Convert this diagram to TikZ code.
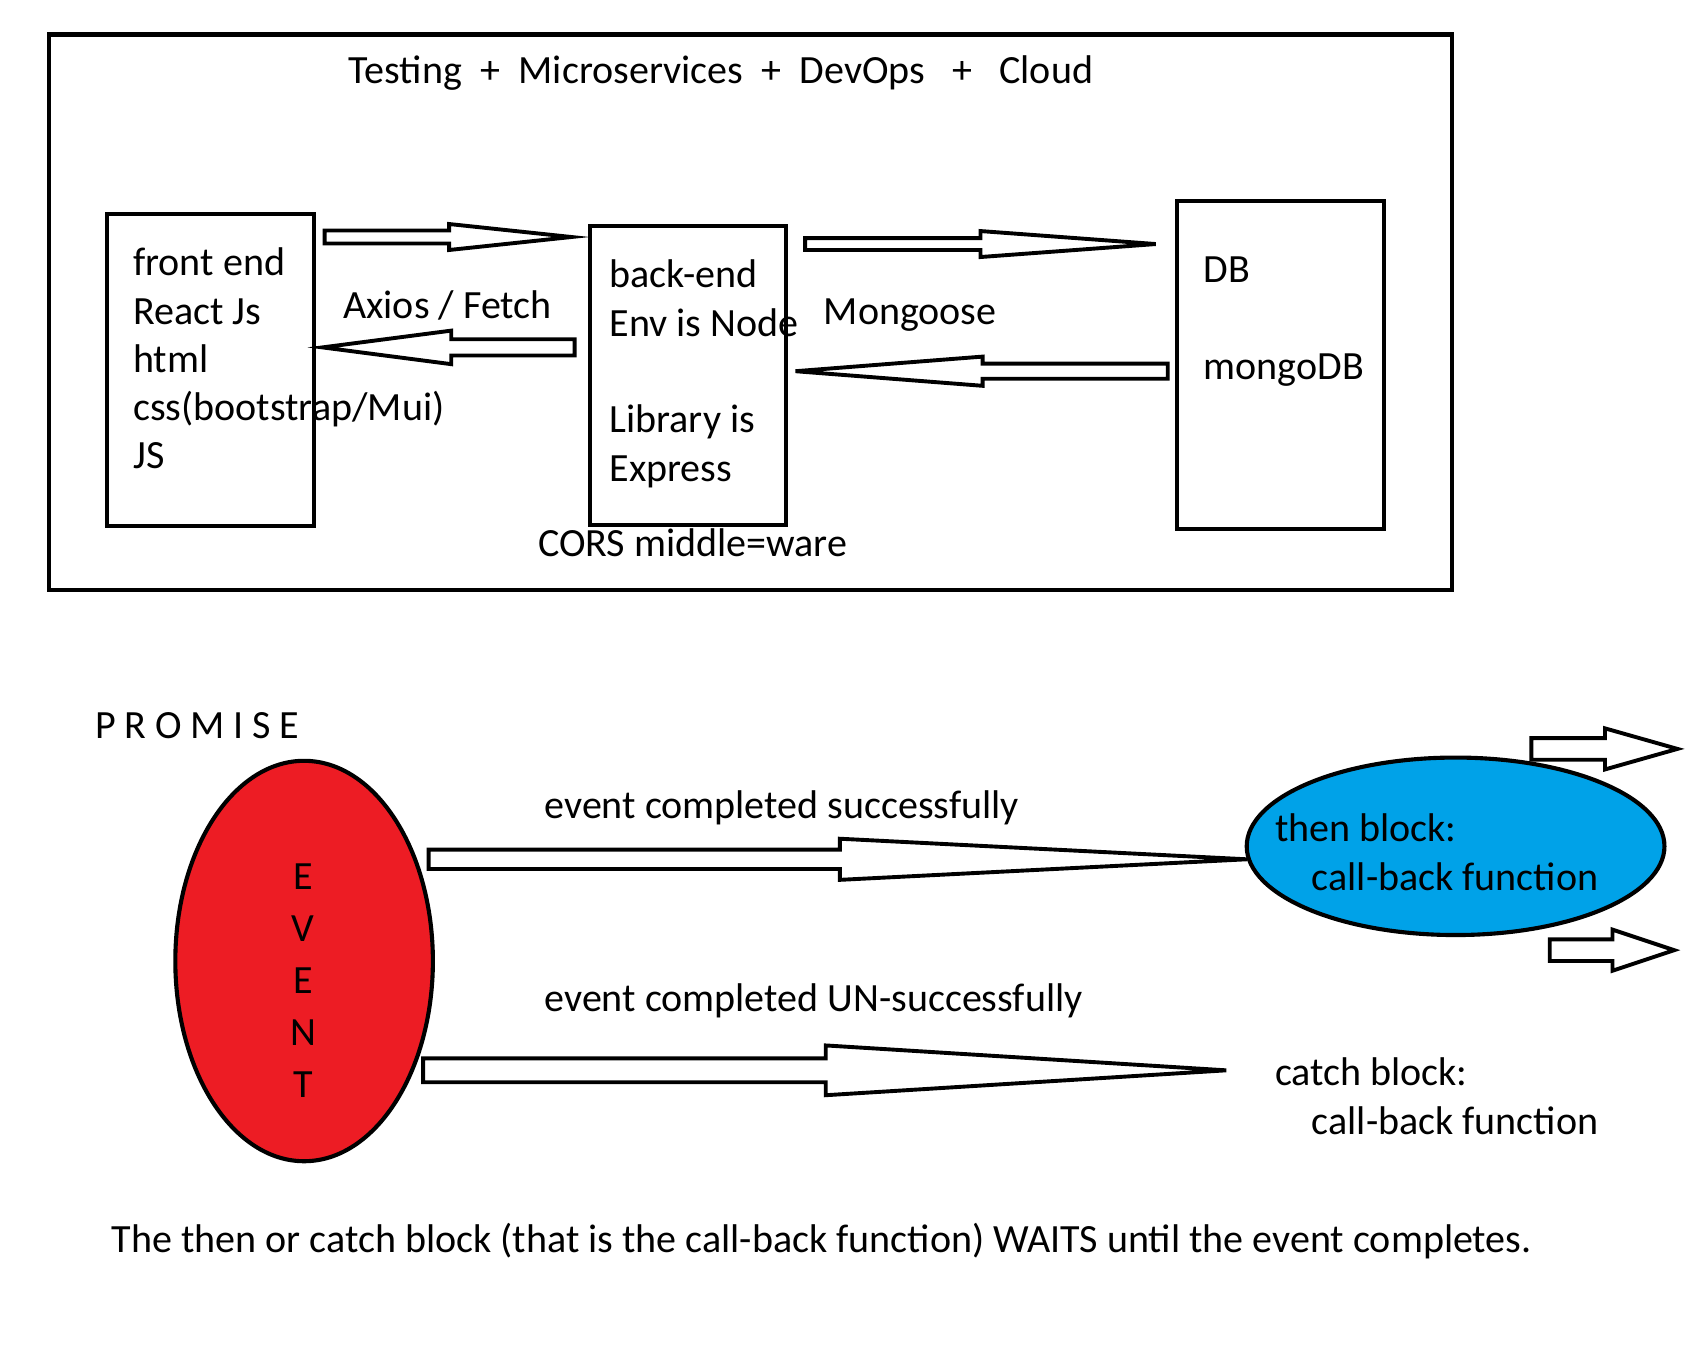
\documentclass[tikz,border=0pt]{standalone}
\usepackage{fontspec}
\setmainfont{Carlito}
\usetikzlibrary{shapes.geometric}
\definecolor{pred}{HTML}{ED1C24}
\definecolor{pblue}{HTML}{00A2E8}
\tikzset{
  box/.style={draw, line width=3.8pt, inner sep=0pt, anchor=north west},
  blk/.style={draw, line width=3.6pt, fill=white, line join=miter},
  lbl/.style={anchor=base west, inner sep=0pt, font=\fontsize{37}{45}\selectfont},
  oval/.style={draw, line width=3.8pt, ellipse, inner sep=0pt},
}
\newcommand\blockarrow[6]{%
  \draw[blk] (#1,#4-#5) -- (#2,#4-#5) -- (#2,#4-#6) -- (#3,#4) -- (#2,#4+#6) -- (#2,#4+#5) -- (#1,#4+#5) -- cycle;}
\begin{document}
\begin{tikzpicture}[x=1pt,y=-1pt]
\useasboundingbox (0,0) rectangle (1569,1245);
% top panel
\node[box, minimum width=1297pt, minimum height=513pt] (outer) at (43,30) {};
\node[lbl] (title) at (322,77) {Testing\hspace{17pt}+\hspace{17pt}Microservices\hspace{17pt}+\hspace{17pt}DevOps\hspace{25pt}+\hspace{25pt}Cloud};
\node[box, minimum width=191pt, minimum height=288pt] (fe) at (97,196) {};
\node[box, minimum width=181pt, minimum height=276pt] (be) at (543,207) {};
\node[box, minimum width=191pt, minimum height=303pt] (db) at (1086,184) {};
\node[lbl] (fe1) at (123,255) {front end};
\node[lbl] (fe2) at (123,300) {React Js};
\node[lbl] (fe3) at (123,344) {html};
\node[lbl] (fe4) at (123,389) {css(bootstrap/Mui)};
\node[lbl] (fe5) at (123,433) {JS};
\node[lbl] (be1) at (563,266) {back-end};
\node[lbl] (be2) at (563,311) {Env is Node};
\node[lbl] (be3) at (563,400) {Library is};
\node[lbl] (be4) at (563,445) {Express};
\node[lbl] (cors) at (497,514) {CORS middle=ware};
\node[lbl] (db1) at (1112,261) {DB};
\node[lbl] (db2) at (1112,351) {mongoDB};
\node[lbl] (axios) at (317,294) {Axios / Fetch};
\node[lbl] (mong) at (761,300) {Mongoose};
\blockarrow{300}{415}{528}{219}{6}{12}
\blockarrow{531}{417}{298}{321}{7.5}{15.5}
\blockarrow{744}{906}{1068}{225.5}{5.5}{12}
\blockarrow{1079}{908}{735}{343}{7}{13.5}
% promise panel
\node[lbl] (prom) at (88,682) {P\hspace{8pt}R\hspace{8pt}O\hspace{8pt}M\hspace{8pt}I\hspace{8pt}S\hspace{8pt}E};
\blockarrow{1415}{1483}{1550}{692}{10}{19}
\blockarrow{1432}{1490}{1547}{878}{10}{19}
\blockarrow{396}{776}{1152}{794}{9}{19}
\blockarrow{391}{763}{1133}{989}{11}{23}
\node[oval, fill=pred, minimum width=238pt, minimum height=370pt] (event) at (281,888) {};
\node[oval, fill=pblue, minimum width=386pt, minimum height=164pt] (then) at (1345,782) {};
\node[anchor=north, inner sep=0pt, align=center, font=\fontsize{37}{48}\selectfont] (evt) at (280,798) {E\\V\\E\\N\\T};
\node[lbl] (ok) at (503,756) {event completed successfully};
\node[lbl] (nok) at (503,935) {event completed UN-successfully};
\node[lbl] (then1) at (1178,778) {then block:};
\node[lbl] (then2) at (1212,823) {call-back function};
\node[lbl] (catch1) at (1178,1003) {catch block:};
\node[lbl] (catch2) at (1212,1048) {call-back function};
\node[lbl] (note) at (103,1157) {The then or catch block (that is the call-back function) WAITS until the event completes.};
\end{tikzpicture}
\end{document}
